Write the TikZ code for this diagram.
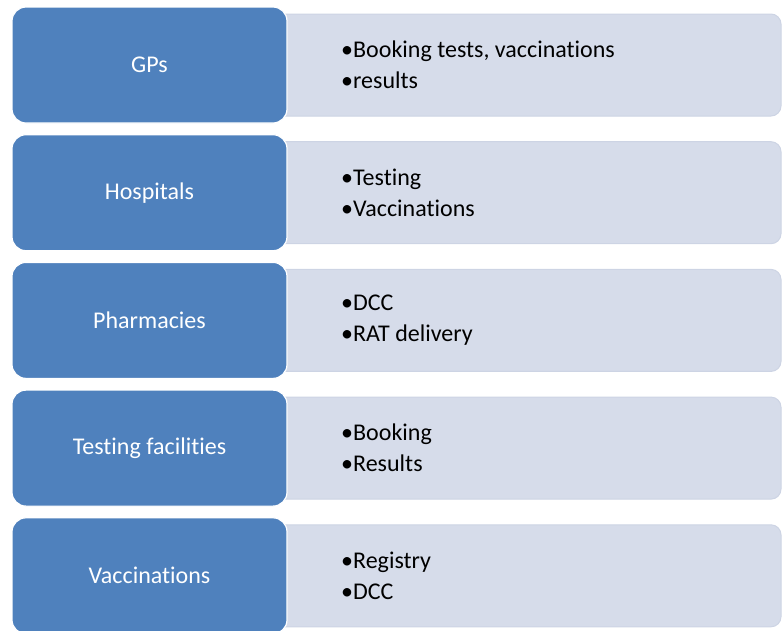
\documentclass[tikz,border=0pt]{standalone}
\usepackage{fontspec}
\setmainfont{Carlito}[Ligatures={NoCommon}]
\definecolor{accblue}{HTML}{4F81BD}
\definecolor{lightbox}{HTML}{D6DCEA}
\definecolor{lightedge}{HTML}{CDD4E4}
\begin{document}
\begin{tikzpicture}[x=1pt,y=-1pt,
  catbox/.style={draw=white,line width=1.2pt,fill=accblue,rounded corners=14pt,text=white,font=\fontsize{24}{28}\selectfont},
  listbox/.style={draw=lightedge,line width=1pt,fill=lightbox},
  listtext/.style={anchor=west,align=left,text=black,font=\fontsize{24}{31}\selectfont,inner sep=0pt}]
\useasboundingbox (0,0) rectangle (782,630);
\foreach \i/\cat/\la/\lb in {0/GPs/{Booking tests, vaccinations}/results,
  1/Hospitals/Testing/Vaccinations,
  2/Pharmacies/DCC/RAT delivery,
  3/Testing facilities/Booking/Results,
  4/Vaccinations/Registry/DCC}{
  \pgfmathsetmacro{\cy}{65+127.7*\i}
  \path[listbox] (270,\cy-51) [rounded corners=10pt] -- (781,\cy-51) -- (781,\cy+51) [sharp corners] -- (270,\cy+51) -- cycle;
  \node[listtext] (l\i) at (341,\cy) {•\la\\•\lb};
  \node[catbox,minimum width=275,minimum height=116] (c\i) at (149.5,\cy) {\cat};
}
\end{tikzpicture}
\end{document}
